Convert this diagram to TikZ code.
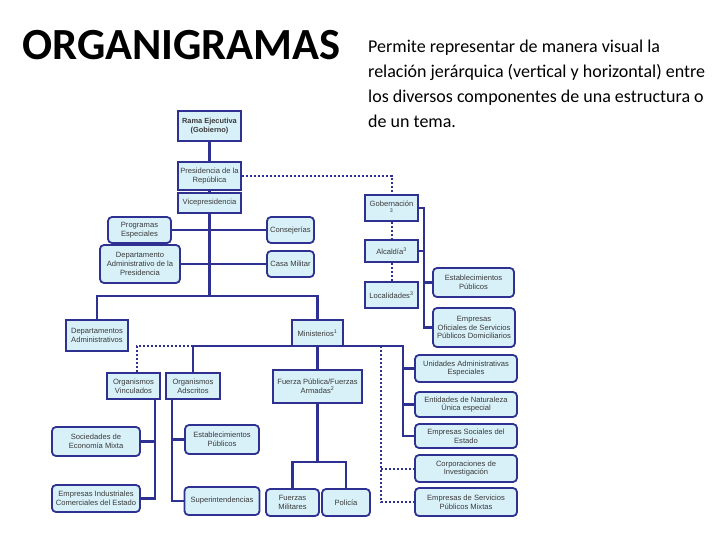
\documentclass[tikz,border=0pt]{standalone}
\usepackage{fontspec}
\setmainfont{Carlito}
\newfontfamily\boxf{Liberation Sans}
\definecolor{navy}{HTML}{2E3192}
\definecolor{lightc}{HTML}{D8F1F9}
\definecolor{txt}{HTML}{3A3A3A}
\begin{document}
\begin{tikzpicture}[x=1pt,y=-1pt,
  box/.style={draw=navy, line width=1.8pt, fill=lightc, inner sep=1pt, align=center,
    font=\boxf\fontsize{7.6}{8.6}\selectfont, text=txt},
  rbox/.style={box, rounded corners=4pt},
  sz/.style 2 args={minimum width=#1pt, minimum height=#2pt},
  ln/.style={draw=navy, line width=2.4pt},
  dt/.style={draw=navy, line width=2pt, dash pattern=on 2pt off 2pt}]
\useasboundingbox (0,0) rectangle (728,546);
\fill[white] (0,0) rectangle (728,546);

% title and description
\node[anchor=base west, inner sep=0, font=\bfseries\fontsize{44.5}{50}\selectfont] (title) at (22,59) {ORGANIGRAMAS};
\node[anchor=base west, inner sep=0, align=left, font=\fontsize{18}{25}\selectfont] (desc) at (368,127)
  {Permite representar de manera visual la\\relación jerárquica (vertical y horizontal) entre\\los diversos componentes de una estructura o\\de un tema.};

% boxes
\node[box, sz={63}{30}, font=\boxf\bfseries\fontsize{7.4}{8.6}\selectfont] (rama) at (209.5,126) {Rama Ejecutiva\\(Gobierno)};
\node[box, sz={63}{28}] (pres) at (209.5,176) {Presidencia de la\\República};
\node[box, sz={63}{20}] (vice) at (209.5,203) {Vicepresidencia};
\node[rbox, sz={63}{26}] (prog) at (139.5,230) {Programas\\Especiales};
\node[rbox, sz={47}{26}] (cons) at (290.5,230) {Consejerías};
\node[rbox, sz={80}{38}] (depadm) at (140,264) {Departamento\\Administrativo de la\\Presidencia};
\node[rbox, sz={47}{26}] (casa) at (290.5,264) {Casa Militar};
\node[box, sz={62}{31}] (deptos) at (97,335.5) {Departamentos\\Administrativos};
\node[box, sz={51}{26}] (minis) at (317.5,333) {Ministerios\textsuperscript{1}};

\node[box, sz={53}{26}] (gob) at (391.5,208) {Gobernación\\\textsuperscript{3}};
\node[box, sz={53}{22}] (alc) at (391.5,251) {Alcaldía\textsuperscript{3}};
\node[box, sz={53}{26}] (loc) at (391.5,295) {Localidades\textsuperscript{3}};
\node[rbox, sz={81}{29}] (est1) at (473.5,282.5) {Establecimientos\\Públicos};
\node[rbox, sz={82}{39}] (empof) at (474,327.5) {Empresas\\Oficiales de Servicios\\Públicos Domiciliarios};

\node[box, sz={53}{26}] (vinc) at (133.5,386) {Organismos\\Vinculados};
\node[box, sz={54}{26}] (adsc) at (193,386) {Organismos\\Adscritos};
\node[box, sz={89}{33}] (fuerza) at (317.5,386.5) {Fuerza Pública/Fuerzas\\Armadas\textsuperscript{2}};

\node[rbox, sz={102}{27}] (uae) at (466,368.5) {Unidades Administrativas\\Especiales};
\node[rbox, sz={102}{25}] (ent) at (466,404.5) {Entidades de Naturaleza\\Única especial};
\node[rbox, sz={102}{24}] (ese) at (466,436) {Empresas Sociales del\\Estado};
\node[rbox, sz={102}{27}] (corp) at (466,468.5) {Corporaciones de\\Investigación};
\node[rbox, sz={102}{28}] (mix) at (466,502) {Empresas de Servicios\\Públicos Mixtas};

\node[rbox, sz={88}{29}] (soc) at (96,441.5) {Sociedades de\\Economía Mixta};
\node[rbox, sz={88}{27}] (empind) at (96,498.5) {Empresas Industriales\\Comerciales del Estado};
\node[rbox, sz={74}{29}] (est2) at (222,439.5) {Establecimientos\\Públicos};
\node[rbox, sz={75}{28}] (sup) at (222,501) {Superintendencias};
\node[rbox, sz={53}{27}] (fmil) at (292.5,502.5) {Fuerzas\\Militares};
\node[rbox, sz={48}{27}] (pol) at (346,502.5) {Policía};

% coordinates
\coordinate (hl) at (97,296);
\coordinate (hr) at (317.5,296);
\coordinate (gv) at (424,208);
\coordinate (mr) at (403,346);
\coordinate (dv) at (381,346);
\coordinate (vd) at (137,346);
\coordinate (fj) at (317.5,462);
\coordinate (vvx) at (155,399);
\coordinate (avx) at (172,399);

% upper connectors
\draw[ln] (rama) -- (pres);
\draw[ln] (pres) -- (vice);
\draw[ln] (vice.south) -- (vice.south |- hl);
\draw[ln] (prog.east) -- (cons.west);
\draw[ln] (depadm.east) -- (depadm.east -| casa.west);
\draw[ln] (deptos.north) -- (deptos.north |- hl) -- (hr) -- (minis.north);

% gobernacion branch
\draw[dt] (pres.east) -- (pres.east -| gob.north) -- (gob.north);
\draw[dt] (gob) -- (alc);
\draw[dt] (alc) -- (loc);
\draw[ln] (gob.east) -- (gob.east -| gv) -- (gv |- empof.west) -- (empof.west);
\draw[ln] (alc.east) -- (alc.east -| gv);
\draw[ln] (gv |- est1.west) -- (est1.west);

% ministerios branch
\draw[ln] (adsc.north) -- (adsc.north |- mr) -- (mr) |- (ese.west);
\draw[ln] (mr |- uae.west) -- (uae.west);
\draw[ln] (mr |- ent.west) -- (ent.west);
\draw[dt] (dv) |- (mix.west);
\draw[dt] (dv |- corp.west) -- (corp.west);
\draw[dt] (adsc.north |- mr) -- (vd) -- (vd |- vinc.north);
\draw[ln] (minis.south) -- (fuerza.north);
\draw[ln] (fuerza.south) -- (fj);
\draw[ln] (fmil.north) |- (fj) -| (pol.north);

% lower left
\draw[ln] (vvx) |- (empind.east);
\draw[ln] (vvx |- soc.east) -- (soc.east);
\draw[ln] (avx) |- (sup.west);
\draw[ln] (avx |- est2.west) -- (est2.west);
\end{tikzpicture}
\end{document}
